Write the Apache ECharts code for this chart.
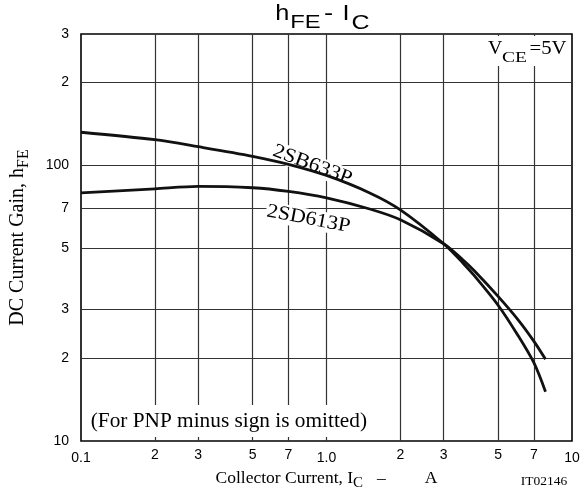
<!DOCTYPE html>
<html>
<head>
<meta charset="utf-8">
<script src="https://cdn.jsdelivr.net/npm/echarts@6/dist/echarts.min.js"></script>
<style>
  html, body { margin: 0; padding: 0; background: #fff; }
  #chart { width: 586px; height: 496px; }
</style>
</head>
<body>
<div id="chart"></div>
<script>
// ---- data ----
const icValues = [0.1, 0.2, 0.3, 0.5, 0.7, 1.0, 1.5, 2, 3, 3.6, 4, 5, 6, 7, 7.8];
const hfe2SB633P = [132, 124, 117, 108, 101, 92, 79.5, 69, 52, 44.2, 39.8, 31.1, 24.3, 19.2, 15.1];
const hfe2SD613P = [79.5, 82.3, 84, 83, 80.5, 76.3, 69.5, 63.5, 52, 45.4, 41.5, 33.5, 27.7, 23.0, 19.8];

const xTickValues = [0.1, 0.2, 0.3, 0.5, 0.7, 1, 2, 3, 5, 7, 10];
const xTickLabels = ['0.1', '2', '3', '5', '7', '1.0', '2', '3', '5', '7', '10'];
const yTickValues = [10, 20, 30, 50, 70, 100, 200, 300];
const yTickLabels = ['10', '2', '3', '5', '7', '100', '2', '3'];

// ---- chart ----
const SANS = '"Liberation Sans", Arial, sans-serif';
const SERIF = '"Liberation Serif", "Times New Roman", serif';
const GRID_LINE = { color: '#333', width: 1.2, type: 'solid' };
const HIDDEN_LINE = { color: 'rgba(0,0,0,0)', width: 0, type: 'solid' };

const chart = echarts.init(document.getElementById('chart'), null, { renderer: 'canvas' });

function pairs(xs, ys) { return xs.map((x, i) => [x, ys[i]]); }

const xLines = xTickValues.map((v, i) => {
  const edge = (i === 0 || i === xTickValues.length - 1);
  const lowLabel = edge || xTickLabels[i] === '1.0';
  return {
    xAxis: v,
    name: xTickLabels[i],
    lineStyle: edge ? HIDDEN_LINE : GRID_LINE,
    label: { distance: lowLabel ? 10 : 7, opacity: 1 }
  };
});
const yLines = yTickValues.map((v, i) => {
  const edge = (i === 0 || i === yTickValues.length - 1);
  return {
    yAxis: v,
    name: yTickLabels[i],
    lineStyle: edge ? HIDDEN_LINE : GRID_LINE,
    label: { opacity: 1 }
  };
});

const tickLabelStyle = { show: true, position: 'start', formatter: '{b}', color: '#000', opacity: 1, fontFamily: SANS, fontSize: 14 };

function txt(x, y, text, font, size, scaleX) {
  return {
    type: 'text', x: x, y: y, z: 50, scaleX: scaleX || 1,
    style: { text: text, font: size + 'px ' + font, fontFamily: font, fontSize: size, fill: '#000', verticalAlign: 'middle', textAlign: 'left' }
  };
}

const option = {
  animation: false,
  backgroundColor: '#fff',
  grid: { left: 81, right: 14, top: 34, bottom: 54, show: true, borderColor: '#000', borderWidth: 1.6, backgroundColor: 'transparent' },
  xAxis: {
    type: 'log', logBase: 10, min: 0.1, max: 10,
    axisLine: { show: false }, axisTick: { show: false }, axisLabel: { show: false },
    splitLine: { show: false }, minorSplitLine: { show: false },
    name: '{n|Collector Current, I}{s|C}{d|–}{a|A}',
    nameLocation: 'middle', nameGap: 28,
    nameTextStyle: {
      color: '#000', fontFamily: SERIF, fontSize: 17.5,
      rich: {
        n: { fontFamily: SERIF, fontSize: 17.5, lineHeight: 18, verticalAlign: 'top', color: '#000' },
        s: { fontFamily: SERIF, fontSize: 15, lineHeight: 15, verticalAlign: 'top', padding: [7, 0, 0, 0], color: '#000' },
        d: { fontFamily: SERIF, fontSize: 17.5, lineHeight: 18, verticalAlign: 'top', padding: [0, 0, 0, 14], color: '#000' },
        a: { fontFamily: SERIF, fontSize: 17.5, lineHeight: 18, verticalAlign: 'top', padding: [0, 0, 0, 39], color: '#000' }
      }
    }
  },
  yAxis: {
    type: 'log', logBase: 10, min: 10, max: 300,
    axisLine: { show: false }, axisTick: { show: false }, axisLabel: { show: false },
    splitLine: { show: false }, minorSplitLine: { show: false },
    name: '{n|DC Current Gain, h}{s|FE}',
    nameLocation: 'middle', nameRotate: 90, nameGap: 53,
    nameTextStyle: {
      color: '#000', fontFamily: SERIF, fontSize: 20,
      rich: {
        n: { fontFamily: SERIF, fontSize: 20, lineHeight: 20, verticalAlign: 'top', color: '#000' },
        s: { fontFamily: SERIF, fontSize: 16, lineHeight: 16, verticalAlign: 'top', padding: [8, 0, 0, 0], color: '#000' }
      }
    }
  },
  series: [
    {
      name: 'xgrid', type: 'line', data: [], z: 1, clip: false, silent: true,
      markLine: { silent: true, symbol: ['none', 'none'], z: 1, label: Object.assign({}, tickLabelStyle), data: xLines }
    },
    {
      name: 'ygrid', type: 'line', data: [], z: 1, clip: false, silent: true,
      markLine: { silent: true, symbol: ['none', 'none'], z: 1, label: Object.assign({}, tickLabelStyle, { distance: 12 }), data: yLines }
    },
    {
      name: '2SB633P', type: 'line', data: pairs(icValues, hfe2SB633P), showSymbol: false, symbol: 'none',
      smooth: 0.3, z: 10, lineStyle: { color: '#111', width: 2.8 }
    },
    {
      name: '2SD613P', type: 'line', data: pairs(icValues, hfe2SD613P), showSymbol: false, symbol: 'none',
      smooth: 0.3, z: 10, lineStyle: { color: '#111', width: 2.8 }
    }
  ],
  graphic: [
    // title  h_FE - I_C
    txt(275.2, 14, 'h', SANS, 22, 1.15),
    txt(290.2, 22.4, 'FE', SANS, 19, 1.25),
    txt(324, 14, '-', SANS, 22, 1.25),
    txt(342.5, 14, 'I', SANS, 22, 1.15),
    txt(351.5, 23.2, 'C', SANS, 20, 1.25),
    // V_CE = 5V box
    { type: 'rect', z: 40, shape: { x: 484, y: 36, width: 86, height: 30 }, style: { fill: '#fff' } },
    txt(488, 49.5, 'V', SERIF, 18, 1.1),
    txt(502, 58.4, 'CE', SERIF, 15, 1.3),
    txt(529.5, 49.5, '=5V', SERIF, 18, 1.15),
    // note
    { type: 'rect', z: 40, shape: { x: 86, y: 405, width: 286, height: 32 }, style: { fill: '#fff' } },
    txt(90.7, 422.2, '(For PNP minus sign is omitted)', SERIF, 20, 1.065),
    // curve labels
    { type: 'text', x: 312.5, y: 165, z: 8, rotation: -0.36, scaleX: 1.1,
      style: { text: '2SB633P', font: '20px ' + SERIF, fontFamily: SERIF, fontSize: 20, fill: '#000', textAlign: 'center', verticalAlign: 'middle', backgroundColor: '#fff', padding: [0, 1] } },
    { type: 'text', x: 308.5, y: 219, z: 8, rotation: -0.19, scaleX: 1.1,
      style: { text: '2SD613P', font: '20px ' + SERIF, fontFamily: SERIF, fontSize: 20, fill: '#000', textAlign: 'center', verticalAlign: 'middle', backgroundColor: '#fff', padding: [0, 1] } },
    // figure id
    { type: 'text', x: 544, y: 481.5, z: 50,
      style: { text: 'IT02146', font: '13.5px ' + SERIF, fontFamily: SERIF, fontSize: 13.5, fill: '#000', textAlign: 'center', verticalAlign: 'middle' } }
  ]
};

chart.setOption(option);
</script>
</body>
</html>
